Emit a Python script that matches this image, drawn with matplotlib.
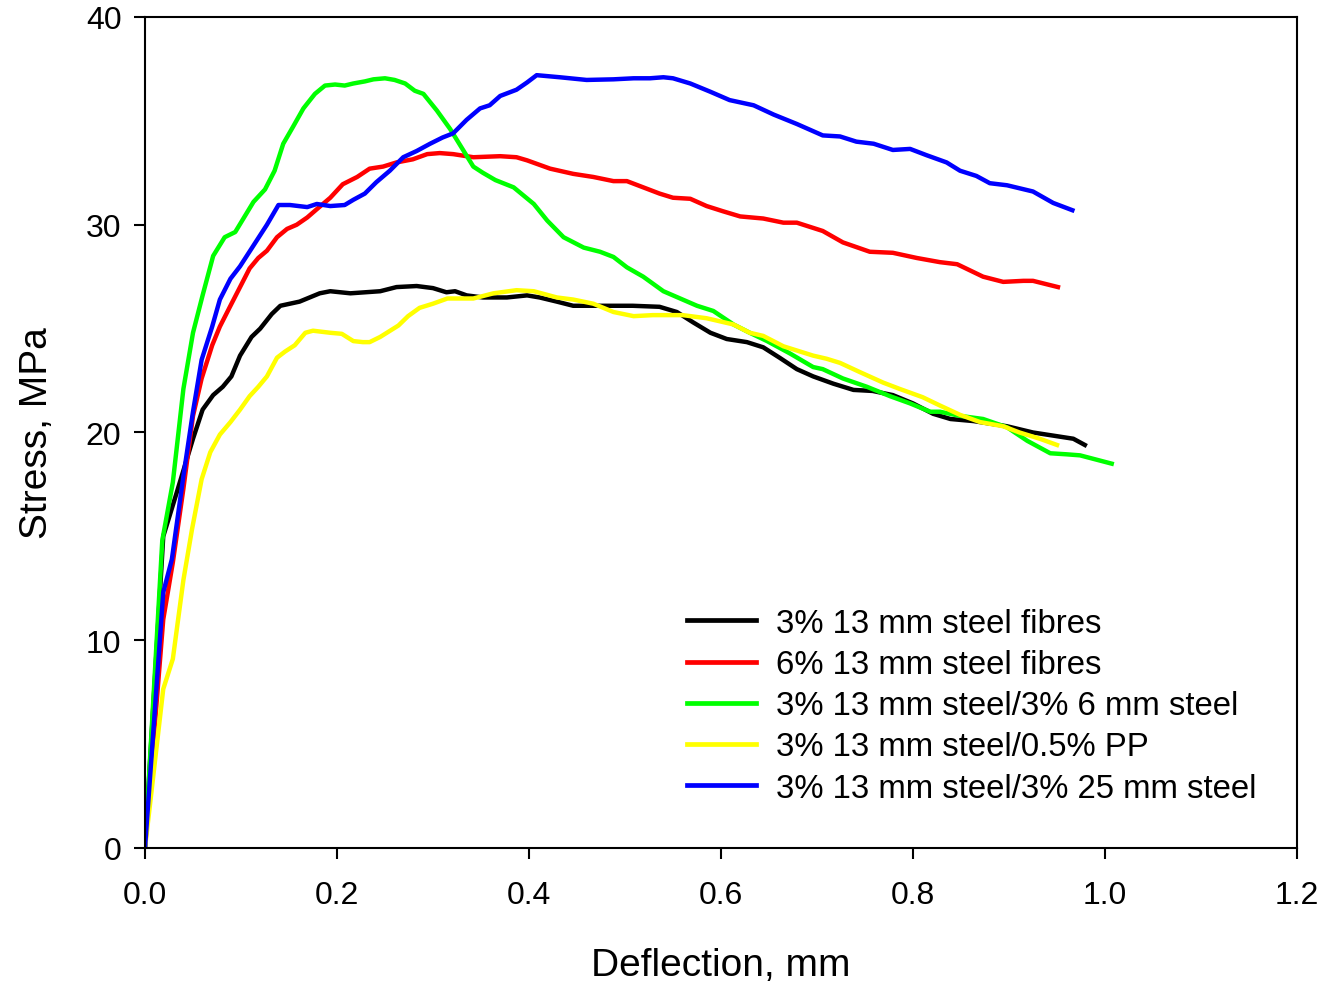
import matplotlib
matplotlib.use("Agg")
import matplotlib.pyplot as plt

plt.rcParams["font.family"] = ["Liberation Sans", "DejaVu Sans"]

# deflection (mm) / stress (MPa)
black_x = [0, .019, .033, .05, .06, .071, .081, .09, .099, .111, .12, .132, .141, .161, .182,
           .193, .214, .245, .262, .283, .30, .314, .323, .335, .352, .377, .398, .411, .429,
           .446, .474, .508, .536, .554, .571, .589, .606, .627, .644, .661, .679, .696, .717,
           .738, .758, .779, .80, .821, .839, .863, .898, .925, .953, .967, .979]
black_y = [0, 15.0, 17.1, 19.7, 21.1, 21.8, 22.2, 22.7, 23.7, 24.6, 25.0, 25.7, 26.1, 26.3, 26.7,
           26.8, 26.7, 26.8, 27.0, 27.05, 26.95, 26.75, 26.8, 26.6, 26.5, 26.5, 26.6, 26.5, 26.3,
           26.1, 26.1, 26.1, 26.05, 25.8, 25.3, 24.8, 24.5, 24.35, 24.1, 23.6, 23.05, 22.7, 22.35,
           22.05, 22.0, 21.8, 21.4, 20.9, 20.65, 20.55, 20.3, 20.0, 19.8, 19.7, 19.4]

red_x = [0, .019, .029, .04, .05, .059, .07, .078, .089, .099, .109, .118, .127, .1375, .148,
         .158, .169, .179, .193, .206, .221, .234, .248, .262, .279, .294, .307, .321, .342,
         .37, .387, .398, .422, .446, .467, .488, .502, .519, .536, .55, .568, .585, .602, .62,
         .644, .665, .679, .706, .727, .755, .779, .804, .828, .846, .873, .894, .915, .925, .951]
red_y = [0, 11.0, 13.75, 17.3, 20.8, 22.6, 24.2, 25.1, 26.1, 27.0, 27.9, 28.4, 28.75, 29.4, 29.8,
         30.0, 30.35, 30.75, 31.3, 31.95, 32.3, 32.7, 32.8, 33.0, 33.15, 33.4, 33.45, 33.4, 33.25,
         33.3, 33.25, 33.1, 32.7, 32.45, 32.3, 32.1, 32.1, 31.8, 31.5, 31.3, 31.25, 30.9, 30.65, 30.4,
         30.3, 30.1, 30.1, 29.7, 29.15, 28.7, 28.65, 28.4, 28.2, 28.1, 27.5, 27.25, 27.3, 27.3, 27.0]

green_x = [0, .018, .029, .04, .05, .06, .071, .083, .094, .113, .125, .135, .144, .154, .165,
           .177, .1875, .198, .208, .217, .229, .238, .25, .26, .271, .281, .29, .304, .318, .33,
           .342, .352, .365, .384, .405, .419, .436, .457, .474, .488, .502, .519, .54, .56, .575,
           .592, .613, .63, .648, .672, .696, .706, .727, .752, .776, .797, .818, .828, .849, .873,
           .898, .919, .943, .96, .974, 1.007]
green_y = [0, 14.8, 17.6, 22.1, 24.8, 26.6, 28.5, 29.4, 29.65, 31.1, 31.7, 32.6, 33.9, 34.7, 35.6,
           36.3, 36.7, 36.75, 36.7, 36.8, 36.9, 37.0, 37.05, 36.97, 36.8, 36.45, 36.3, 35.5, 34.6, 33.7,
           32.8, 32.5, 32.15, 31.8, 31.0, 30.2, 29.4, 28.9, 28.7, 28.45, 27.95, 27.5, 26.8, 26.4, 26.1,
           25.85, 25.2, 24.8, 24.4, 23.8, 23.15, 23.05, 22.6, 22.2, 21.75, 21.4, 21.0, 21.0, 20.8, 20.65,
           20.25, 19.6, 19.0, 18.95, 18.9, 18.5]

yellow_x = [0, .019, .029, .04, .049, .059, .068, .078, .089, .099, .109, .118, .127, .1375, .146,
            .156, .167, .175, .193, .205, .217, .227, .234, .245, .264, .274, .286, .30, .315, .342,
            .363, .387, .405, .429, .446, .467, .488, .509, .529, .56, .585, .613, .63, .644, .665,
            .696, .71, .724, .745, .769, .786, .81, .828, .849, .87, .894, .911, .932, .95]
yellow_y = [0, 7.65, 9.1, 12.9, 15.35, 17.75, 19.05, 19.9, 20.5, 21.1, 21.75, 22.2, 22.7, 23.6, 23.9,
            24.2, 24.8, 24.9, 24.8, 24.75, 24.4, 24.35, 24.35, 24.6, 25.15, 25.6, 26.0, 26.2, 26.45, 26.45,
            26.7, 26.85, 26.8, 26.5, 26.4, 26.2, 25.8, 25.6, 25.65, 25.65, 25.5, 25.2, 24.8, 24.65, 24.15,
            23.7, 23.55, 23.35, 22.9, 22.4, 22.1, 21.7, 21.3, 20.85, 20.5, 20.3, 20.0, 19.7, 19.4]

blue_x = [0, .019, .028, .04, .05, .059, .07, .078, .089, .099, .113, .127, .139, .151, .169,
          .179, .193, .208, .217, .229, .241, .255, .269, .283, .297, .31, .321, .335, .349, .359,
          .37, .387, .398, .408, .432, .46, .488, .509, .526, .54, .55, .568, .589, .609, .634,
          .655, .679, .706, .724, .741, .759, .779, .797, .814, .835, .849, .866, .88, .898, .925,
          .946, .966]
blue_y = [0, 12.3, 13.9, 17.9, 21.0, 23.5, 25.1, 26.4, 27.4, 28.0, 29.0, 30.0, 30.95, 30.95, 30.85,
          31.0, 30.9, 30.95, 31.2, 31.5, 32.05, 32.6, 33.25, 33.55, 33.9, 34.2, 34.4, 35.05, 35.6, 35.75,
          36.2, 36.5, 36.85, 37.2, 37.1, 36.97, 37.0, 37.05, 37.05, 37.1, 37.05, 36.8, 36.4, 36.0, 35.75,
          35.3, 34.85, 34.3, 34.25, 34.0, 33.9, 33.6, 33.65, 33.35, 33.0, 32.6, 32.35, 32.0, 31.9, 31.6,
          31.05, 30.7]

labels = ["3% 13 mm steel fibres", "6% 13 mm steel fibres", "3% 13 mm steel/3% 6 mm steel",
          "3% 13 mm steel/0.5% PP", "3% 13 mm steel/3% 25 mm steel"]
colors = ["#000000", "#ff0000", "#00ff00", "#ffff00", "#0000ff"]

fig = plt.figure(figsize=(13.26, 9.87), dpi=100)
ax = fig.add_axes([145 / 1326, 1 - 849 / 987, 1152 / 1326, 831 / 987])

series = [(black_x, black_y), (red_x, red_y), (green_x, green_y), (yellow_x, yellow_y), (blue_x, blue_y)]
for (xs, ys), lab, col in zip(series, labels, colors):
    ax.plot(xs, ys, color=col, linewidth=3.2, label=lab, solid_joinstyle="round")

ax.set_xlim(0, 1.2)
ax.set_ylim(0, 40)
ax.set_xticks([0, 0.2, 0.4, 0.6, 0.8, 1.0, 1.2])
ax.set_xticklabels(["0.0", "0.2", "0.4", "0.6", "0.8", "1.0", "1.2"])
ax.set_yticks([0, 10, 20, 30, 40])
ax.tick_params(direction="out", length=8, width=1.5, labelsize=23)
ax.tick_params(axis="x", pad=15)
ax.tick_params(axis="y", pad=9)
for sp in ax.spines.values():
    sp.set_linewidth(1.5)

ax.set_xlabel("Deflection, mm", fontsize=28, labelpad=27)
ax.set_ylabel("Stress, MPa", fontsize=28, labelpad=22)

leg = ax.legend(loc="upper left", bbox_to_anchor=(0.4705, 0.289), frameon=False, fontsize=23.7,
                handlelength=2.1, handletextpad=0.6, labelspacing=0.31, borderpad=0,
                borderaxespad=0)
for line in leg.get_lines():
    line.set_linewidth(3.4)

fig.savefig("out.png", dpi=100)
